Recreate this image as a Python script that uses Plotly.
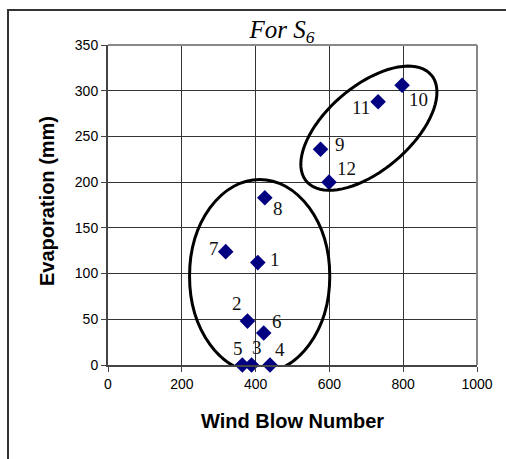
import numpy as np
import plotly.graph_objects as go

# Data
wind_blow = [406, 378, 389, 439, 364, 422, 319, 425, 576, 797, 732, 599]
evaporation = [112, 48, 0, 0, 0, 35, 124, 183, 236, 306, 288, 200]
point_labels = ["1", "2", "3", "4", "5", "6", "7", "8", "9", "10", "11", "12"]
x_ticks = [0, 200, 400, 600, 800, 1000]
y_ticks = [0, 50, 100, 150, 200, 250, 300, 350]

# label offsets in px (style)
label_shift = {
    "1": (17, 3), "2": (-10, 18), "3": (5, 18), "4": (10, 16), "5": (-4, 17),
    "6": (13, 12), "7": (-12, 3), "8": (13, -11), "9": (19, 5), "10": (16, -14),
    "11": (-17, -6), "12": (17, 14),
}

W, H = 506, 459
L, R, T, B = 108, 29, 45, 94

fig = go.Figure()
fig.add_trace(go.Scatter(
    x=wind_blow, y=evaporation, mode="markers",
    marker=dict(symbol="diamond", size=12, color="#000080", line=dict(width=0)),
    showlegend=False, cliponaxis=False,
))

for xv, yv, lab in zip(wind_blow, evaporation, point_labels):
    dx, dy = label_shift[lab]
    fig.add_annotation(x=xv, y=yv, text=lab, showarrow=False, xshift=dx, yshift=dy,
                       font=dict(family="Liberation Serif", size=19, color="#111"))

# ellipses
fig.add_shape(type="circle", xref="x", yref="y", x0=221, x1=601, y0=-8.7, y1=203,
              line=dict(color="black", width=3))
# rotated ellipse (pixel geometry converted to data)
px_per_x = (W - L - R) / 1000.0
px_per_y = (H - T - B) / 350.0
cx, cy = 707, 259
a, b, ang = 82, 42, np.deg2rad(40.5)
t = np.linspace(0, 2 * np.pi, 80)
ex = a * np.cos(t) * np.cos(ang) - b * np.sin(t) * np.sin(ang)
ey = a * np.cos(t) * np.sin(ang) + b * np.sin(t) * np.cos(ang)
xs = cx + ex / px_per_x
ys = cy + ey / px_per_y
path = "M " + " L ".join(f"{x:.2f},{y:.2f}" for x, y in zip(xs, ys)) + " Z"
fig.add_shape(type="path", path=path, xref="x", yref="y", line=dict(color="black", width=3))

# plot area top/right border (gray)
fig.add_shape(type="line", xref="paper", yref="paper", x0=0, x1=1, y0=1, y1=1,
              line=dict(color="#888", width=2))
fig.add_shape(type="line", xref="paper", yref="paper", x0=1, x1=1, y0=0, y1=1,
              line=dict(color="#888", width=2))
# outer frame
pw, ph = W - L - R, H - T - B
fig.add_shape(type="rect", xref="paper", yref="paper",
              x0=(8 - L) / pw, x1=(W + 20 - L) / pw,
              y0=-(H + 20 - (H - B)) / ph, y1=(H - B - 10) / ph,
              line=dict(color="#333", width=2))

fig.add_annotation(text="Wind Blow Number", xref="paper", yref="paper",
                   x=0.5, y=-(421 - (H - B)) / ph, showarrow=False, yanchor="middle",
                   font=dict(family="Liberation Sans", size=20, color="black", weight="bold"))
fig.add_annotation(text="Evaporation (mm)", xref="paper", yref="paper",
                   x=-(L - 47) / pw, y=0.5 + (205 - 201) / ph, showarrow=False, textangle=-90,
                   xanchor="center", yanchor="middle",
                   font=dict(family="Liberation Sans", size=20, color="black", weight="bold"))

fig.update_layout(
    width=W, height=H, margin=dict(l=L, r=R, t=T, b=B),
    paper_bgcolor="white", plot_bgcolor="white",
    title=dict(text="<i>For S<sub>6</sub></i>", xref="container", yref="container",
               x=282 / W, y=1 - 29 / H, xanchor="center", yanchor="middle",
               font=dict(family="Liberation Serif", size=25, color="black")),
    xaxis=dict(range=[0, 1000], tickvals=x_ticks, showgrid=True, gridcolor="#333", gridwidth=1,
               zeroline=False, showline=True, linecolor="#444", linewidth=2,
               ticks="outside", ticklen=5, tickcolor="#444",
               tickfont=dict(family="Liberation Sans", size=14, color="black")),
    yaxis=dict(range=[0, 350], tickvals=y_ticks, showgrid=True, gridcolor="#333", gridwidth=1,
               zeroline=False, showline=True, linecolor="#444", linewidth=2,
               ticks="outside", ticklen=5, tickcolor="#444",
               tickfont=dict(family="Liberation Sans", size=14, color="black")),
)

fig.write_html("out.html")
